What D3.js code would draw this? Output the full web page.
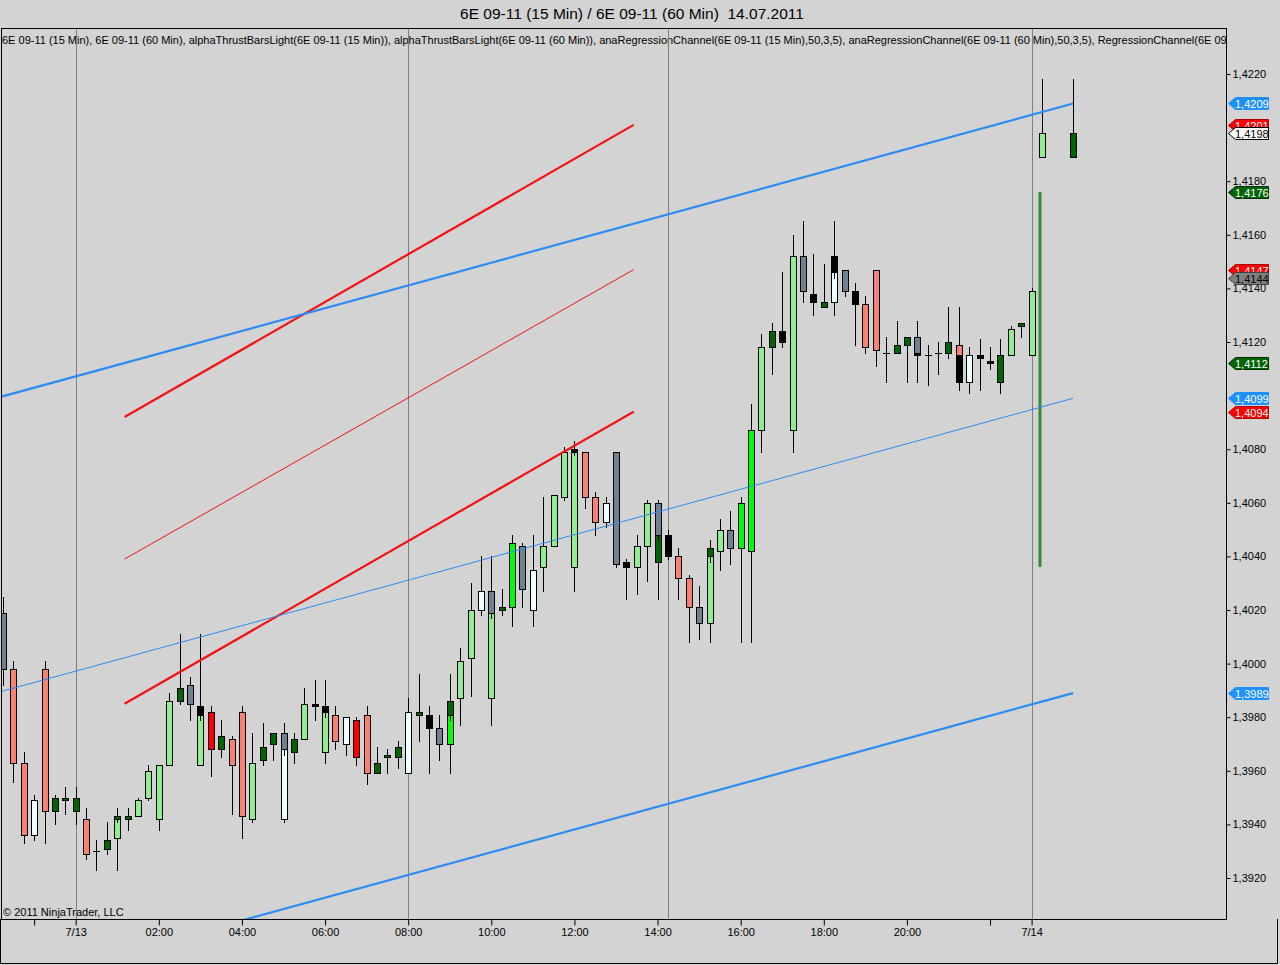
<!DOCTYPE html>
<html>
<head>
<meta charset="utf-8">
<script src="https://cdnjs.cloudflare.com/ajax/libs/d3/7.8.5/d3.min.js"></script>
<style>
    html, body { margin: 0; padding: 0; background: #d3d3d3; }
    svg { display: block; font-family: "Liberation Sans", Arial, sans-serif; }
</style>
</head>
<body>
<svg id="chart" width="1280" height="965"></svg>
<script>
'use strict';

var TITLE = '6E 09-11 (15 Min) / 6E 09-11 (60 Min)  14.07.2011';
var LEGEND = '6E 09-11 (15 Min), 6E 09-11 (60 Min), alphaThrustBarsLight(6E 09-11 (15 Min)), ' +
    'alphaThrustBarsLight(6E 09-11 (60 Min)), anaRegressionChannel(6E 09-11 (15 Min),50,3,5), ' +
    'anaRegressionChannel(6E 09-11 (60 Min),50,3,5), RegressionChannel(6E 09-11 (60 Min),50,3,5)';
var COPYRIGHT = '\u00a9 2011 NinjaTrader, LLC';

// 15 min bars, t = 15 min slot counted from 7/13 00:00
var t15 = [-7, -6, -5, -4, -3, -2, -1, 0, 1, 2, 3, 4, 5, 6, 7, 8, 9, 10, 11, 12,
    13, 14, 15, 16, 17, 18, 19, 20, 21, 22, 23, 24, 25, 26, 27, 28, 29, 30, 31, 32,
    33, 34, 35, 36, 37, 38, 39, 40, 41, 42, 43, 44, 45, 46, 47, 48, 49, 50, 51, 52,
    53, 54, 55, 56, 57, 58, 59, 60, 61, 62, 63, 64, 65, 66, 67, 68, 69, 70, 71, 72,
    73, 74, 75, 76, 77, 78, 79, 80, 81, 82, 83, 84, 85, 86, 87, 88, 89, 90, 91, 92,
    93, 96];
var open15 = [1.4019, 1.3998, 1.3963, 1.3936, 1.3998, 1.3950, 1.3950, 1.3950, 1.3942, 1.3930,
    1.3934, 1.3943, 1.3943, 1.3943, 1.3950, 1.3942, 1.3962, 1.3991, 1.3992, 1.3984,
    1.3982, 1.3973, 1.3972, 1.3982, 1.3942, 1.3969, 1.3974, 1.3974, 1.3972, 1.3972,
    1.3985, 1.3984, 1.3981, 1.3970, 1.3979, 1.3981, 1.3963, 1.3966, 1.3969, 1.3959,
    1.3982, 1.3981, 1.3976, 1.3986, 1.3987, 1.4002, 1.4020, 1.4027, 1.4021, 1.4021,
    1.4044, 1.4020, 1.4036, 1.4044, 1.4062, 1.4080, 1.4079, 1.4062, 1.4053, 1.4079,
    1.4038, 1.4036, 1.4044, 1.4060, 1.4048, 1.4040, 1.4032, 1.4021, 1.4043, 1.4042,
    1.4050, 1.4043, 1.4042, 1.4087, 1.4124, 1.4124, 1.4087, 1.4152, 1.4138, 1.4135,
    1.4152, 1.4147, 1.4139, 1.4134, 1.4147, 1.4116, 1.4119, 1.4122, 1.4122, 1.4115,
    1.4116, 1.4120, 1.4119, 1.4105, 1.4115, 1.4113, 1.4115, 1.4115, 1.4127, 1.4115,
    1.4189, 1.4189];
var high15 = [1.4025, 1.4001, 1.3967, 1.3951, 1.4001, 1.3951, 1.3954, 1.3954, 1.3946, 1.3934,
    1.3941, 1.3944, 1.3946, 1.3950, 1.3962, 1.3962, 1.3989, 1.4011, 1.3995, 1.3986,
    1.3984, 1.3979, 1.3973, 1.3984, 1.3974, 1.3978, 1.3974, 1.3976, 1.3974, 1.3991,
    1.3994, 1.3986, 1.3984, 1.3980, 1.3980, 1.3984, 1.3969, 1.3968, 1.3971, 1.3987,
    1.3996, 1.3984, 1.3981, 1.3987, 1.4006, 1.4030, 1.4040, 1.4030, 1.4028, 1.4048,
    1.4045, 1.4048, 1.4062, 1.4063, 1.4081, 1.4083, 1.4079, 1.4064, 1.4062, 1.4079,
    1.4039, 1.4048, 1.4061, 1.4061, 1.4050, 1.4043, 1.4033, 1.4029, 1.4045, 1.4054,
    1.4057, 1.4062, 1.4097, 1.4123, 1.4127, 1.4146, 1.4160, 1.4165, 1.4153, 1.4149,
    1.4154, 1.4147, 1.4142, 1.4137, 1.4147, 1.4122, 1.4128, 1.4122, 1.4123, 1.4119,
    1.4120, 1.4133, 1.4120, 1.4118, 1.4121, 1.4118, 1.4121, 1.4126, 1.4127, 1.4140,
    1.4218, 1.4218];
var low15 = [1.3992, 1.3956, 1.3933, 1.3934, 1.3933, 1.3940, 1.3944, 1.3940, 1.3927, 1.3923,
    1.3929, 1.3941, 1.3938, 1.3943, 1.3949, 1.3938, 1.3962, 1.3985, 1.3979, 1.3979,
    1.3958, 1.3965, 1.3944, 1.3935, 1.3941, 1.3962, 1.3964, 1.3966, 1.3963, 1.3972,
    1.3979, 1.3980, 1.3968, 1.3966, 1.3962, 1.3955, 1.3959, 1.3959, 1.3961, 1.3959,
    1.3971, 1.3959, 1.3964, 1.3979, 1.3977, 1.3988, 1.4018, 1.4017, 1.4018, 1.4014,
    1.4021, 1.4014, 1.4027, 1.4044, 1.4061, 1.4078, 1.4058, 1.4048, 1.4051, 1.4036,
    1.4024, 1.4026, 1.4031, 1.4046, 1.4039, 1.4024, 1.4008, 1.4009, 1.4038, 1.4035,
    1.4037, 1.4008, 1.4008, 1.4079, 1.4108, 1.4118, 1.4079, 1.4135, 1.4130, 1.4133,
    1.4144, 1.4137, 1.4119, 1.4116, 1.4111, 1.4105, 1.4116, 1.4105, 1.4114, 1.4104,
    1.4108, 1.4114, 1.4113, 1.4101, 1.4102, 1.4110, 1.4101, 1.4115, 1.4122, 1.4115,
    1.4189, 1.4189];
var close15 = [1.3998, 1.3963, 1.3936, 1.3949, 1.3945, 1.3945, 1.3949, 1.3945, 1.3929, 1.3930,
    1.3931, 1.3942, 1.3942, 1.3949, 1.3960, 1.3962, 1.3986, 1.3986, 1.3985, 1.3981,
    1.3968, 1.3968, 1.3962, 1.3943, 1.3963, 1.3964, 1.3970, 1.3968, 1.3967, 1.3985,
    1.3984, 1.3982, 1.3971, 1.3980, 1.3965, 1.3959, 1.3959, 1.3965, 1.3965, 1.3982,
    1.3981, 1.3976, 1.3970, 1.3981, 1.4001, 1.4020, 1.4027, 1.4019, 1.4020, 1.4045,
    1.4028, 1.4035, 1.4044, 1.4063, 1.4079, 1.4079, 1.4062, 1.4053, 1.4060, 1.4037,
    1.4036, 1.4044, 1.4060, 1.4048, 1.4040, 1.4032, 1.4021, 1.4015, 1.4040, 1.4050,
    1.4043, 1.4060, 1.4087, 1.4118, 1.4118, 1.4120, 1.4152, 1.4139, 1.4135, 1.4133,
    1.4146, 1.4139, 1.4134, 1.4118, 1.4117, 1.4116, 1.4116, 1.4119, 1.4116, 1.4115,
    1.4116, 1.4116, 1.4115, 1.4115, 1.4114, 1.4112, 1.4105, 1.4125, 1.4126, 1.4139,
    1.4198, 1.4198];
// alphaThrustBars state of each 15 min bar
var state15 = ['gr', 'sa', 'sa', 'az', 'sa', 'dg', 'dg', 'dg', 'sa', 'bk',
    'dg', 'dg', 'dg', 'lg', 'lg', 'lg', 'lg', 'dg', 'gr', 'bk',
    'rd', 'dg', 'sa', 'sa', 'lg', 'dg', 'dg', 'gr', 'dg', 'lg',
    'bk', 'bk', 'sa', 'az', 'rd', 'sa', 'dg', 'dg', 'dg', 'az',
    'dg', 'bk', 'gr', 'dg', 'lg', 'lg', 'az', 'gr', 'dg', 'lm',
    'gr', 'az', 'lg', 'lg', 'lg', 'bk', 'sa', 'sa', 'az', 'gr',
    'bk', 'lg', 'lg', 'gr', 'bk', 'sa', 'sa', 'gr', 'dg', 'lg',
    'gr', 'lm', 'lm', 'lg', 'dg', 'bk', 'lg', 'gr', 'bk', 'dg',
    'bk', 'gr', 'bk', 'sa', 'sa', 'bk', 'dg', 'dg', 'gr', 'bk',
    'bk', 'dg', 'sa', 'az', 'bk', 'bk', 'dg', 'lg', 'dg', 'lg',
    'lg', 'dg'];

// 60 min bars that show from under the 15 min bars
var t60 = [4, 12, 20, 24, 36, 40, 48, 56, 61, 73, 81, 85];
var open60 = [1.3935, 1.3962, 1.3942, 1.3967, 1.3970, 1.3987, 1.4036, 1.4060, 1.4015, 1.4135, 1.4122, 1.4119];
var high60 = [1.3946, 1.4011, 1.3978, 1.3994, 1.3996, 1.4040, 1.4083, 1.4061, 1.4046, 1.4165, 1.4128, 1.4133];
var low60 = [1.3923, 1.3962, 1.3941, 1.3963, 1.3959, 1.3977, 1.4027, 1.4024, 1.4008, 1.4130, 1.4105, 1.4102];
var close60 = [1.3943, 1.3984, 1.3974, 1.3984, 1.3986, 1.4027, 1.4080, 1.4038, 1.4043, 1.4152, 1.4115, 1.4105];
var state60 = ['lg', 'lg', 'az', 'lg', 'lm', 'lg', 'lg', 'dg', 'lg', 'az', 'bk', 'bk'];

// last 60 min bar range
var spikeT = [93];
var spikeHigh = [1.4176];
var spikeLow = [1.4036];

// regression channels (start / end)
var blueT = [-8, 96];
var blueUpper = [1.40987, 1.4209];
var blueMid = [1.39887, 1.4099];
var blueLower = [1.38787, 1.3989];
var redT = [4.7, 53.7];
var redUpper = [1.4092, 1.4201];
var redMid = [1.4039, 1.4147];
var redLower = [1.3985, 1.4094];

// session break lines
var sessionT = [0, 32, 57, 92];

var xTickT = [-4, 0, 8, 16, 24, 32, 40, 48, 56, 64, 72, 80, 88, 92];
var xTickLabels = ['', '7/13', '02:00', '04:00', '06:00', '08:00', '10:00', '12:00',
    '14:00', '16:00', '18:00', '20:00', '', '7/14'];
var yTickValues = [1.392, 1.394, 1.396, 1.398, 1.400, 1.402, 1.404, 1.406,
    1.408, 1.410, 1.412, 1.414, 1.416, 1.418, 1.420, 1.422];

// price markers on the right axis
var markerValues = [1.4209, 1.4201, 1.4198, 1.4176, 1.4147, 1.4144, 1.4112, 1.4099, 1.4094, 1.3989];
var markerKinds = ['blue', 'red', 'white', 'green', 'red', 'grey', 'green', 'blue', 'red', 'blue'];

var BAR_COLORS = {
    lg: '#90ee90', dg: '#006400', sa: '#fa8072', rd: '#ff0000',
    az: '#f0ffff', gr: '#708090', bk: '#000000', lm: '#00ff00'
};
var MARKER_COLORS = {
    blue: { fill: '#1e90ff', stroke: '#1e90ff', text: '#ffffff' },
    red: { fill: '#ff0000', stroke: '#b00000', text: '#ffffff' },
    white: { fill: '#ffffff', stroke: '#000000', text: '#000000' },
    green: { fill: '#006400', stroke: '#003000', text: '#ffffff' },
    grey: { fill: '#808080', stroke: '#404040', text: '#000000' }
};
var BLUE = '#2b8cf2';
var RED = '#f01414';

var PLOT = { left: 1, top: 28, right: 1226, bottom: 919 };

var svg = d3.select('#chart');
var x = d3.scaleLinear().domain([0, 92]).range([75.7, 1031.6]);
var y = d3.scaleLinear().domain([1.392, 1.422]).range([878, 74]);
var priceFormat = d3.formatLocale({ decimal: ',', thousands: '.', grouping: [3], currency: ['', ''] }).format('.4f');

function crisp(v) {
    return Math.round(v) + 0.5;
}

function drawCandles(layer, t, o, h, l, c, s) {
    var bars = layer.selectAll(null)
        .data(d3.range(t.length))
        .enter()
        .append('g');

    bars.append('line')
        .attr('x1', function (i) { return crisp(x(t[i])); })
        .attr('x2', function (i) { return crisp(x(t[i])); })
        .attr('y1', function (i) { return Math.round(y(h[i])); })
        .attr('y2', function (i) { return Math.round(y(l[i])) + 1; })
        .attr('stroke', '#000')
        .attr('stroke-width', 1);

    bars.each(function (i) {
        var g = d3.select(this);
        var cx = Math.round(x(t[i]));
        var top = crisp(y(Math.max(o[i], c[i])));
        var bottom = crisp(y(Math.min(o[i], c[i])));
        if (bottom - top < 1) {
            // doji: open == close
            g.append('line')
                .attr('x1', cx - 3)
                .attr('x2', cx + 4)
                .attr('y1', top)
                .attr('y2', top)
                .attr('stroke', '#000')
                .attr('stroke-width', 1);
        } else {
            g.append('rect')
                .attr('x', cx - 2.5)
                .attr('y', top)
                .attr('width', 6)
                .attr('height', bottom - top)
                .attr('fill', BAR_COLORS[s[i]])
                .attr('stroke', '#000')
                .attr('stroke-width', 1);
        }
    });
}

function drawChannel(layer, t, values, width) {
    var line = d3.line()
        .x(function (i) { return x(t[i]); })
        .y(function (i) { return y(values[i]); });
    return layer.append('path')
        .attr('d', line(d3.range(t.length)))
        .attr('fill', 'none')
        .attr('stroke-width', width);
}

// frame
svg.append('rect')
    .attr('width', 1280)
    .attr('height', 965)
    .attr('fill', '#d3d3d3');

svg.append('defs').append('clipPath')
    .attr('id', 'plot-clip')
    .append('rect')
    .attr('x', PLOT.left + 1)
    .attr('y', PLOT.top + 1)
    .attr('width', PLOT.right - PLOT.left - 1)
    .attr('height', PLOT.bottom - PLOT.top - 1);

svg.append('text')
    .attr('x', 632)
    .attr('y', 19)
    .attr('text-anchor', 'middle')
    .attr('font-size', '15.5px')
    .attr('fill', '#000')
    .style('white-space', 'pre')
    .text(TITLE);

var plot = svg.append('g').attr('clip-path', 'url(#plot-clip)');

plot.append('text')
    .attr('x', 2)
    .attr('y', 44)
    .attr('font-size', '11px')
    .attr('fill', '#000')
    .text(LEGEND);

plot.selectAll('.session')
    .data(sessionT)
    .enter()
    .append('line')
    .attr('class', 'session')
    .attr('x1', function (d) { return crisp(x(d)); })
    .attr('x2', function (d) { return crisp(x(d)); })
    .attr('y1', PLOT.top)
    .attr('y2', PLOT.bottom)
    .attr('stroke', '#808080')
    .attr('stroke-width', 1);

var candles60 = plot.append('g').attr('shape-rendering', 'crispEdges');
drawCandles(candles60, t60, open60, high60, low60, close60, state60);
var candles15 = plot.append('g').attr('shape-rendering', 'crispEdges');
drawCandles(candles15, t15, open15, high15, low15, close15, state15);

plot.selectAll('.spike')
    .data(d3.range(spikeT.length))
    .enter()
    .append('line')
    .attr('class', 'spike')
    .attr('x1', function (i) { return x(spikeT[i]) - 2; })
    .attr('x2', function (i) { return x(spikeT[i]) - 2; })
    .attr('y1', function (i) { return y(spikeHigh[i]); })
    .attr('y2', function (i) { return y(spikeLow[i]); })
    .attr('stroke', '#2f8f2f')
    .attr('stroke-width', 3);

drawChannel(plot, redT, redUpper, 2.2).attr('stroke', RED);
drawChannel(plot, redT, redMid, 1).attr('stroke', RED);
drawChannel(plot, redT, redLower, 2.2).attr('stroke', RED);
drawChannel(plot, blueT, blueUpper, 2.2).attr('stroke', BLUE);
drawChannel(plot, blueT, blueMid, 1).attr('stroke', BLUE);
drawChannel(plot, blueT, blueLower, 2.2).attr('stroke', BLUE);

plot.append('text')
    .attr('x', 3)
    .attr('y', 916)
    .attr('font-size', '11px')
    .attr('fill', '#000')
    .text(COPYRIGHT);

svg.append('rect')
    .attr('x', PLOT.left + 0.5)
    .attr('y', PLOT.top + 0.5)
    .attr('width', PLOT.right - PLOT.left)
    .attr('height', PLOT.bottom - PLOT.top)
    .attr('fill', 'none')
    .attr('stroke', '#000')
    .attr('stroke-width', 1);

svg.append('path')
    .attr('d', 'M0.5,' + PLOT.bottom + 'V963.5H1277.5V' + PLOT.bottom)
    .attr('fill', 'none')
    .attr('stroke', '#000')
    .attr('stroke-width', 1);

// axes
var xAxis = d3.axisBottom(x)
    .tickValues(xTickT)
    .tickFormat(function (d, i) { return xTickLabels[i]; })
    .tickSize(6)
    .tickPadding(3);

var xAxisG = svg.append('g')
    .attr('transform', 'translate(0,' + (PLOT.bottom + 0.5) + ')')
    .call(xAxis);
xAxisG.select('.domain').remove();
xAxisG.selectAll('text')
    .attr('font-size', '11px')
    .attr('font-family', '"Liberation Sans", Arial, sans-serif')
    .attr('fill', '#000');
xAxisG.selectAll('line').attr('stroke', '#000');

var yVisibleTicks = yTickValues.filter(function (v) {
    return markerValues.every(function (m) {
        return Math.abs(y(v) - y(m)) >= 8;
    });
});

var yAxis = d3.axisRight(y)
    .tickValues(yVisibleTicks)
    .tickFormat(priceFormat)
    .tickSize(4)
    .tickPadding(2);

var yAxisG = svg.append('g')
    .attr('transform', 'translate(' + (PLOT.right + 0.5) + ',0)')
    .call(yAxis);
yAxisG.select('.domain').remove();
yAxisG.selectAll('text')
    .attr('font-size', '11px')
    .attr('font-family', '"Liberation Sans", Arial, sans-serif')
    .attr('fill', '#000');
yAxisG.selectAll('line').attr('stroke', '#000');

// price markers
var markers = svg.selectAll('.marker')
    .data(d3.range(markerValues.length))
    .enter()
    .append('g')
    .attr('class', 'marker')
    .attr('transform', function (i) {
        return 'translate(0,' + Math.round(y(markerValues[i])) + ')';
    });

markers.append('path')
    .attr('d', 'M1228.5,0.5L1235.5,-5.5H1268.5V6.5H1235.5Z')
    .attr('fill', function (i) { return MARKER_COLORS[markerKinds[i]].fill; })
    .attr('stroke', function (i) { return MARKER_COLORS[markerKinds[i]].stroke; })
    .attr('stroke-width', 1);

markers.append('text')
    .attr('x', 1235)
    .attr('y', 5)
    .attr('font-size', '11px')
    .attr('fill', function (i) { return MARKER_COLORS[markerKinds[i]].text; })
    .text(function (i) { return priceFormat(markerValues[i]); });
</script>
</body>
</html>
